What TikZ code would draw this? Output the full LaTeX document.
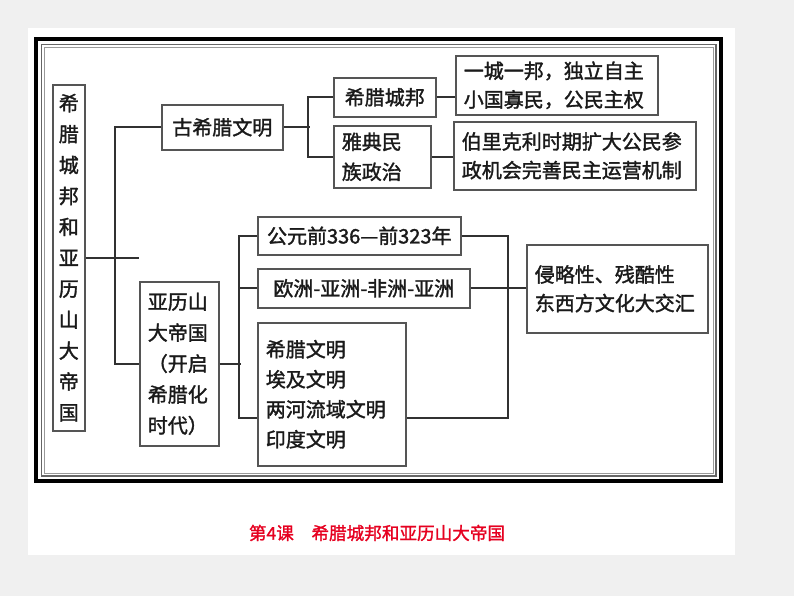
\documentclass[tikz,border=0pt]{standalone}
\usepackage{fontspec}
\usepackage{xcolor}
\usepackage{tikz}
\usetikzlibrary{positioning,calc}
\newfontfamily\cjk{Noto Sans CJK SC}[FakeBold=1.6]
\newfontfamily\cjkcap{Noto Sans CJK SC}[FakeBold=1.4]
\definecolor{pagegray}{HTML}{F0F0F0}
\definecolor{boxline}{HTML}{555555}
\definecolor{inkblack}{HTML}{1A1A1A}
\definecolor{capred}{HTML}{E60020}

\begin{document}
\begin{tikzpicture}[x=0.75pt,y=-0.75pt,thick,
                    box/.style={draw=boxline,line width=1.2pt,anchor=north west,
                    inner xsep=6pt,inner ysep=2pt,text=inkblack,
                    font=\cjk\fontsize{15}{21.5}\selectfont},
                    link/.style={draw=inkblack!90,line width=1.4pt}]

\useasboundingbox (0,0) rectangle (794,596);
\fill[pagegray] (0,0) rectangle (794,596);
\fill[white] (28,28) rectangle (735,555);

% frame
\draw[line width=3pt,black] (36,39) rectangle (721,481);
\draw[line width=0.8pt,black!60] (41.5,44.5) rectangle (716,476);
\draw[line width=0.6pt,black!40] (44.5,47.5) rectangle (713,473);

\node[box,align=center,minimum width=24pt,minimum height=259.5pt,inner xsep=2pt,
      font=\cjk\fontsize{15}{23.2}\selectfont] (root) at (52,84)
  {希\\腊\\城\\邦\\和\\亚\\历\\山\\大\\帝\\国};

\node[box,minimum width=90.75pt,minimum height=33.75pt] (gu) at (161,104) {古希腊文明};
\node[box,minimum width=76.5pt,minimum height=29.25pt] (cb) at (333,77) {希腊城邦};
\node[box,align=left,text width=60.75pt,minimum height=46.5pt,
      font=\cjk\fontsize{15}{22.5}\selectfont] (yd) at (333,125) {雅典民\\族政治};
\node[box,align=left,text width=139.5pt,minimum height=44.25pt] (yc) at (455,55)
  {一城一邦，独立自主\\小国寡民，公民主权};
\node[box,align=left,text width=169.5pt,minimum height=51pt] (bl) at (453,121)
  {伯里克利时期扩大公民参\\政机会完善民主运营机制};

\node[box,align=left,text width=47.25pt,minimum height=123pt,
      font=\cjk\fontsize{15}{23.2}\selectfont] (yl) at (139,281)
  {亚历山\\大帝国\\（开启\\希腊化\\时代）};
\node[box,minimum width=152.25pt,minimum height=28.5pt] (gy) at (257,216) {公元前336—前323年};
\node[box,minimum width=159pt,minimum height=29.25pt] (oz) at (257,268) {欧洲-亚洲-非洲-亚洲};
\node[box,align=left,text width=99pt,minimum height=107.25pt,
      font=\cjk\fontsize{15}{22.5}\selectfont] (wm) at (257,322)
  {希腊文明\\埃及文明\\两河流域文明\\印度文明};
\node[box,align=left,text width=123.75pt,minimum height=66pt] (tz) at (526,244)
  {侵略性、残酷性\\东西方文化大交汇};

% connectors
\coordinate (rootend) at (139,260);
\draw[link] (root.east) -- (root.east -| rootend);
\draw[link] (gu.west) -- ++(-46,0) |- (yl.west);

\draw[link] (gu.east) -- ++(26,0);
\draw[link] (cb.west) -- ++(-25,0) |- (yd.west);
\draw[link] (cb.east) -- (cb.east -| yc.west);
\draw[link] (yd.east) -- (yd.east -| bl.west);

\draw[link] (yl.east) -- ++(21,0);
\draw[link] (gy.west) -- ++(-18,0) |- ([yshift=-18pt]wm.west);
\draw[link] (oz.west) -- ++(-18,0);
\draw[link] (gy.east) -- ++(46,0) |- ([yshift=-18pt]wm.east);
\draw[link] (oz.east) -- (oz.east -| tz.west);

\node[text=capred,font=\cjkcap\fontsize{13.2}{14}\selectfont] (cap) at (377,533)
  {第4课\quad 希腊城邦和亚历山大帝国};

\end{tikzpicture}
\end{document}
